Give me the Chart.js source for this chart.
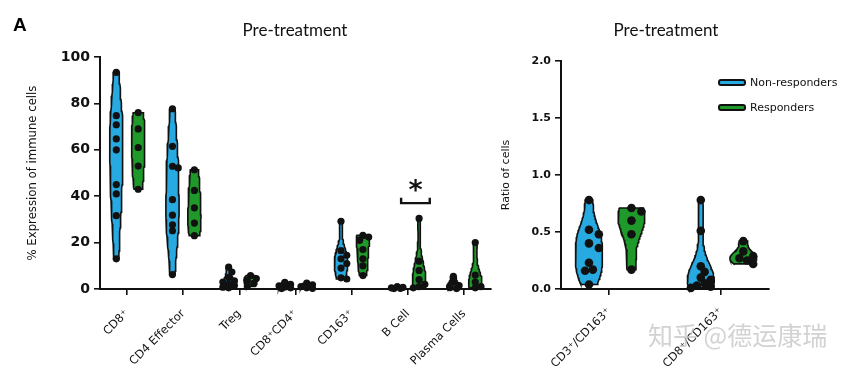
<!DOCTYPE html>
<html><head><meta charset="utf-8">
<script src="https://cdn.jsdelivr.net/npm/chart.js@4.4.0/dist/chart.umd.min.js"></script>
<style>
body{margin:0;width:851px;height:369px;position:relative;background:#fff;overflow:hidden}
canvas{position:absolute;top:0}
#cL{left:0}#cR{left:500px}
.ttl{position:absolute;top:19px;font-family:Lato,'Open Sans',sans-serif;font-size:17px;color:#111;transform:translateX(-50%);white-space:nowrap}
#panelA{position:absolute;left:13px;top:14px;font:bold 19px 'Liberation Sans',Arial,sans-serif;color:#000}
.lg{position:absolute;left:718px;font:11px 'DejaVu Sans',sans-serif;color:#111;display:flex;align-items:center;white-space:nowrap}
.sw{width:24px;height:3px;border:2px solid #111;border-radius:3px;margin-right:4px}
#wm{position:absolute;left:648px;top:316px;font:25px 'Noto Sans CJK SC',sans-serif;color:rgba(195,195,195,0.75);white-space:nowrap}
</style></head><body>
<canvas id="cL" width="500" height="369"></canvas>
<canvas id="cR" width="351" height="369"></canvas>
<div id="panelA">A</div>
<div class="ttl" style="left:295px">Pre-treatment</div>
<div class="ttl" style="left:666px">Pre-treatment</div>
<div class="lg" style="top:76px"><div class="sw" style="background:#27a9e1"></div>Non-responders</div>
<div class="lg" style="top:101px"><div class="sw" style="background:#1f9a2a"></div>Responders</div>
<div id="wm">知乎 @德运康瑞</div>
<script>
// ---------- DATA ----------
const leftCategories = ['CD8⁺', 'CD4 Effector', 'Treg', 'CD8⁺CD4⁺', 'CD163⁺', 'B Cell', 'Plasma Cells'];
const leftTicks = [0, 20, 40, 60, 80, 100];
const cd8NonResp = [93.4, 74.7, 70.8, 64.7, 60.0, 45.0, 41.0, 31.6, 13.0];
const cd8Resp = [76, 69, 61, 53, 43];
const cd4EffNonResp = [77.7, 61.5, 52.9, 52.2, 38.5, 31.8, 27.7, 25.1, 6.2];
const cd4EffResp = [51.4, 42.5, 35, 28.4, 23];
const tregNonResp = [9.4, 7.3, 5.0, 3.5, 3.0, 2.0, 1.5, 0.8, 0.5];
const tregResp = [5.8, 4.5, 3.7, 2.4, 1.1];
const cd8cd4NonResp = [2.9, 2.0, 1.4, 0.9, 0.5, 0.2];
const cd8cd4Resp = [2.5, 1.8, 1.0, 0.5, 0.3];
const cd163NonResp = [29.2, 16.5, 14.5, 13.0, 11.0, 9.0, 4.8, 4.3];
const cd163Resp = [23.1, 22.4, 21.0, 17.0, 13.0, 10.0, 5.8];
const bCellNonResp = [1.0, 0.7, 0.5, 0.3, 0.2];
const bCellResp = [30.4, 12, 8, 4, 2, 1, 0.5];
const plasmaNonResp = [5.4, 2.9, 1.5, 0.6, 0.2];
const plasmaResp = [20, 6, 3, 1, 0.5];

const rightCategories = ['CD3⁺/CD163⁺', 'CD8⁺/CD163⁺'];
const rightTicks = [0, 0.5, 1.0, 1.5, 2.0];
const cd3cd163NonResp = [0.78, 0.52, 0.48, 0.40, 0.36, 0.23, 0.17, 0.16, 0.04];
const cd3cd163Resp = [0.71, 0.68, 0.60, 0.48, 0.17];
const cd8cd163NonResp = [0.78, 0.51, 0.20, 0.15, 0.10, 0.08, 0.05, 0.03, 0.02, 0.01];
const cd8cd163Resp = [0.42, 0.33, 0.29, 0.27, 0.25, 0.22];

const leftNonResp = [cd8NonResp, cd4EffNonResp, tregNonResp, cd8cd4NonResp, cd163NonResp, bCellNonResp, plasmaNonResp];
const leftResp = [cd8Resp, cd4EffResp, tregResp, cd8cd4Resp, cd163Resp, bCellResp, plasmaResp];
const rightNonResp = [cd3cd163NonResp, cd8cd163NonResp];
const rightResp = [cd3cd163Resp, cd8cd163Resp];

const significanceCategory = 'B Cell';
const significanceLabel = '*';
const significanceLevel = 37;

// ---------- STYLE ----------
const BLUE = '#27a9e1', GREEN = '#1f9a2a', INK = '#111';

// violin outline from kernel density estimate of a group's values
function violinOutline(values, cx, halfW) {
  const n = values.length;
  const mean = values.reduce((a, b) => a + b, 0) / n;
  const sd = Math.sqrt(values.reduce((a, b) => a + (b - mean) * (b - mean), 0) / Math.max(1, n - 1)) || 1;
  const h = 0.8 * 1.06 * sd * Math.pow(n, -0.2);
  const lo = Math.min(...values), hi = Math.max(...values);
  const steps = 48, ys = [], dens = [];
  for (let k = 0; k <= steps; k++) {
    const y = lo + (hi - lo) * k / steps;
    ys.push(y);
    dens.push(values.reduce((a, v) => a + Math.exp(-0.5 * ((y - v) / h) ** 2), 0));
  }
  const mx = Math.max(...dens);
  const right = ys.map((y, k) => ({ x: cx + halfW * dens[k] / mx, y }));
  const left = ys.map((y, k) => ({ x: cx - halfW * dens[k] / mx, y })).reverse();
  return [...right, ...left, right[0]];
}

function buildDatasets(nonResp, resp, offNR, offR, halfW, r) {
  const ds = [], swarm = [];
  const add = (vals, cx, color) => {
    ds.push({ data: violinOutline(vals, cx, halfW), showLine: true, fill: 'shape',
      backgroundColor: color, borderColor: INK, borderWidth: 1.6, pointRadius: 0, order: 2, clip: false });
    swarm.push({ idx: ds.length, cx, vals });
    ds.push({ data: vals.map(v => ({ x: cx, y: v })), showLine: false, pointRadius: r,
      pointBackgroundColor: INK, pointBorderWidth: 0, backgroundColor: INK, order: 1, clip: false });
  };
  nonResp.forEach((vals, i) => add(vals, i + offNR, BLUE));
  resp.forEach((vals, i) => add(vals, i + offR, GREEN));
  return { ds, swarm };
}

// spread overlapping dots sideways (limited to the violin width)
function applySwarm(chart, swarm, r, overlap, maxMul) {
  const xs = chart.scales.x, ys = chart.scales.y;
  const offs = [0, 0.9, -0.9, maxMul, -maxMul].map(m => m * r);
  swarm.forEach(s => {
    const cxPx = xs.getPixelForValue(s.cx);
    const pts = s.vals.map(v => ({ v, py: ys.getPixelForValue(v) })).sort((a, b) => a.py - b.py);
    const placed = [];
    pts.forEach(p => {
      let best = null, bestD = -1;
      for (const off of offs) {
        const px = cxPx + off;
        const d = placed.length ? Math.min(...placed.map(q => Math.hypot(q.px - px, q.py - p.py))) : Infinity;
        if (d >= 2 * r * overlap) { best = px; break; }
        if (d > bestD) { bestD = d; best = px; }
      }
      placed.push({ px: best, py: p.py, v: p.v });
    });
    chart.data.datasets[s.idx].data = placed.map(q => ({ x: xs.getValueForPixel(q.px), y: q.v }));
  });
  chart.update('none');
}

function axisCommon() {
  return {
    grid: { display: true, drawOnChartArea: false, drawTicks: true, tickLength: 6, color: INK, lineWidth: 1.6 },
    border: { display: true, color: INK, width: 2 }
  };
}

// ---------- LEFT CHART ----------
const L_NR = -0.19, L_R = 0.2, L_HALF = 0.118, L_R_PT = 3.6;
const left = buildDatasets(leftNonResp, leftResp, L_NR, L_R, L_HALF, L_R_PT);
const sigIdx = leftCategories.indexOf(significanceCategory);
const bx1 = sigIdx + L_NR + 0.07, bx2 = sigIdx + L_R + 0.19;
left.ds.push({ data: [{ x: bx1, y: significanceLevel + 2.3 }, { x: bx1, y: significanceLevel }, { x: bx2, y: significanceLevel }, { x: bx2, y: significanceLevel + 2.3 }],
  showLine: true, fill: false, borderColor: INK, borderWidth: 2.4, pointRadius: 0, order: 0, clip: false });

const sigPlugin = {
  id: 'sig',
  afterDatasetsDraw(chart) {
    const { ctx, scales: { x, y } } = chart;
    ctx.save();
    ctx.font = 'bold 27px "DejaVu Sans"';
    ctx.fillStyle = INK; ctx.textAlign = 'center'; ctx.textBaseline = 'alphabetic';
    ctx.fillText(significanceLabel, x.getPixelForValue((bx1 + bx2) / 2), y.getPixelForValue(significanceLevel) - 4);
    ctx.restore();
  }
};

const chartL = new Chart(document.getElementById('cL'), {
  type: 'scatter',
  data: { datasets: left.ds },
  plugins: [sigPlugin],
  options: {
    responsive: false, animation: false,
    layout: { padding: { top: 57, right: 9, left: 0, bottom: 0 } },
    plugins: { legend: { display: false }, tooltip: { enabled: false } },
    scales: {
      x: Object.assign(axisCommon(), {
        type: 'linear', min: -0.48, max: 6.48,
        afterBuildTicks: s => { s.ticks = leftCategories.map((_, i) => ({ value: i })); },
        afterFit: s => { s.height = 80; },
        ticks: { callback: v => leftCategories[v], minRotation: 45, maxRotation: 45, autoSkip: false,
          font: { family: 'DejaVu Sans', size: 11.5 }, color: INK, padding: 12 }
      }),
      y: Object.assign(axisCommon(), {
        min: 0, max: 100,
        afterBuildTicks: s => { s.ticks = leftTicks.map(v => ({ value: v })); },
        afterFit: s => { s.width = 100; },
        ticks: { font: { family: 'DejaVu Sans', size: 14, weight: 'bold' }, color: INK, padding: 4 },
        title: { display: true, text: '% Expression of immune cells', color: INK,
          font: { family: 'DejaVu Sans', size: 11.7 }, padding: { top: 26, bottom: 0 } }
      })
    }
  }
});
applySwarm(chartL, left.swarm, L_R_PT, 0.8, 1.6);

// ---------- RIGHT CHART ----------
const R_NR = -0.18, R_R = 0.2, R_HALF = 0.12, R_R_PT = 4.3;
const right = buildDatasets(rightNonResp, rightResp, R_NR, R_R, R_HALF, R_R_PT);
const chartR = new Chart(document.getElementById('cR'), {
  type: 'scatter',
  data: { datasets: right.ds },
  options: {
    responsive: false, animation: false,
    layout: { padding: { top: 61, right: 82, left: 0, bottom: 0 } },
    plugins: { legend: { display: false }, tooltip: { enabled: false } },
    scales: {
      x: Object.assign(axisCommon(), {
        type: 'linear', min: -0.43, max: 1.43,
        afterBuildTicks: s => { s.ticks = rightCategories.map((_, i) => ({ value: i })); },
        afterFit: s => { s.height = 80; },
        ticks: { callback: v => rightCategories[v], minRotation: 45, maxRotation: 45, autoSkip: false,
          font: { family: 'DejaVu Sans', size: 11.5 }, color: INK, padding: 10 }
      }),
      y: Object.assign(axisCommon(), {
        min: 0, max: 2,
        afterBuildTicks: s => { s.ticks = rightTicks.map(v => ({ value: v })); },
        afterFit: s => { s.width = 61; },
        ticks: { callback: v => v.toFixed(1), font: { family: 'DejaVu Sans', size: 11, weight: 'bold' }, color: INK, padding: 4 },
        title: { display: true, text: 'Ratio of cells', color: INK,
          font: { family: 'DejaVu Sans', size: 11 }, padding: { top: 0, bottom: 0 } }
      })
    }
  }
});
applySwarm(chartR, right.swarm, R_R_PT, 0.8, 2.3);
</script>
</body></html>
